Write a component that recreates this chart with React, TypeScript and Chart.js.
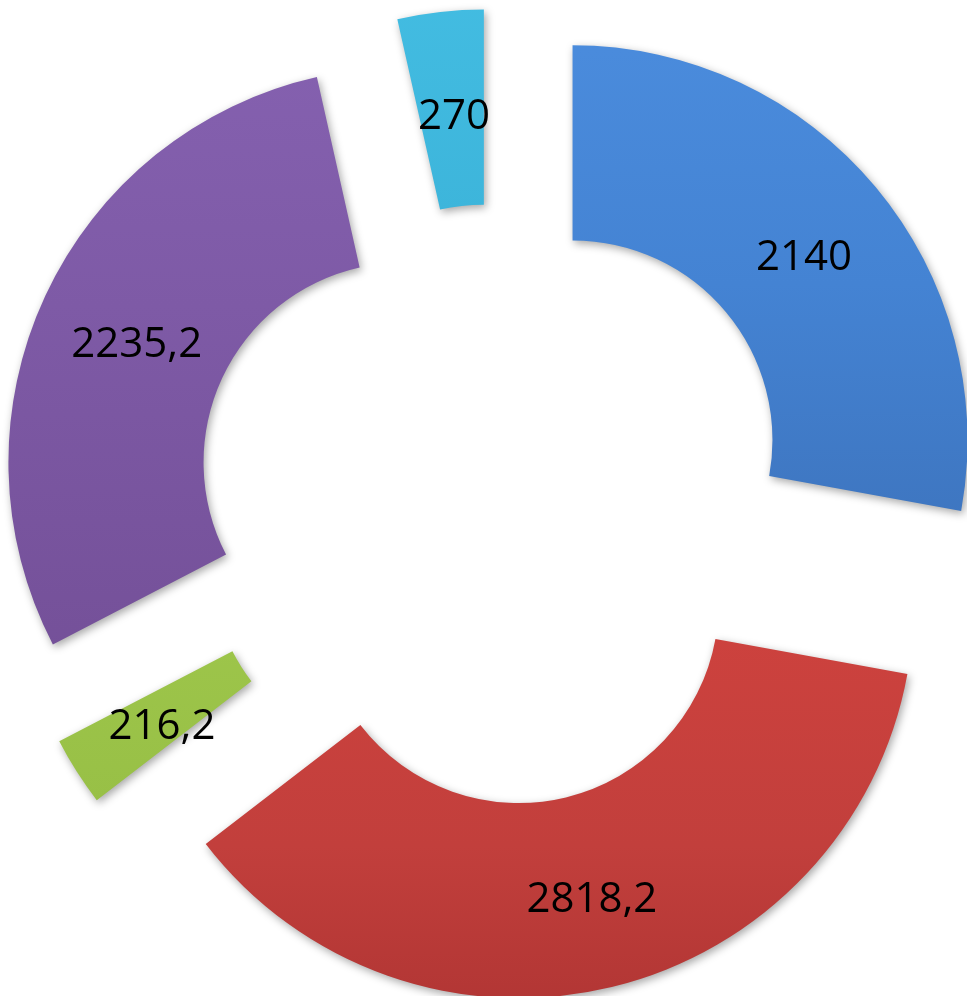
import React, { useEffect, useRef } from "react";
import { Chart, DoughnutController, ArcElement } from "chart.js";

const categories = ["A", "B", "C", "D", "E"];
const values = [2140, 2818.2, 216.2, 2235.2, 270];
const labelsText = ["2140", "2818,2", "216,2", "2235,2", "270"];
const colorStops: string[][] = [
  ["#4d8fe0", "#4483d3", "#3a6db4", "#32609f"],
  ["#e04c48", "#d6443f", "#c23f3c", "#a93130"],
  ["#b0d860", "#a4cc50", "#98c046", "#88ad3c"],
  ["#8763b3", "#7e5aa6", "#734f97", "#664585"],
  ["#45bfe4", "#3cb4da", "#33a3c8", "#2c93b5"],
];

class ExplodedArc extends ArcElement {
  static id = "explodedArc";
  draw(ctx: CanvasRenderingContext2D) {
    const self: any = this;
    const opts: any = self.options;
    const shift = opts.offset || 0;
    const mid = (self.startAngle + self.endAngle) / 2;
    ctx.save();
    ctx.translate(Math.cos(mid) * shift, Math.sin(mid) * shift);
    ctx.shadowColor = "rgba(0,0,0,0.35)";
    ctx.shadowBlur = 8;
    ctx.shadowOffsetX = 2;
    ctx.shadowOffsetY = 3;
    self.options = { ...opts, offset: 0 };
    super.draw(ctx);
    self.options = opts;
    ctx.restore();
  }
}

class ExplodedDoughnutController extends DoughnutController {
  static id = "explodedDoughnut";
  static defaults = { dataElementType: "explodedArc" };
}

Chart.register(ExplodedArc, ExplodedDoughnutController);

const labelPlugin = {
  id: "sliceLabels",
  afterDatasetsDraw(chart: any) {
    const ctx = chart.ctx;
    const meta = chart.getDatasetMeta(0);
    ctx.save();
    ctx.font = "500 42px 'Open Sans'";
    ctx.fillStyle = "#000";
    ctx.textAlign = "center";
    ctx.textBaseline = "middle";
    meta.data.forEach((el: any, i: number) => {
      const p = el.getProps(["x", "y", "startAngle", "endAngle", "innerRadius", "outerRadius"], true);
      const shift = el.options.offset || 0;
      const mid = (p.startAngle + p.endAngle) / 2;
      const r = shift + (p.innerRadius + p.outerRadius) / 2;
      ctx.fillText(labelsText[i], p.x + Math.cos(mid) * r + 3, p.y + Math.sin(mid) * r + 8);
    });
    ctx.restore();
  },
};

export default function App() {
  const ref = useRef<HTMLCanvasElement>(null);
  useEffect(() => {
    if (!ref.current) return;
    const chart = new Chart(ref.current, {
      type: "explodedDoughnut" as any,
      data: {
        labels: categories,
        datasets: [
          {
            data: values,
            backgroundColor: (c: any) => {
              const g = c.chart.ctx.createLinearGradient(0, 0, 0, 996);
              const s = colorStops[c.dataIndex % colorStops.length];
              g.addColorStop(0, s[0]);
              g.addColorStop(0.35, s[1]);
              g.addColorStop(0.75, s[2]);
              g.addColorStop(1, s[3]);
              return g;
            },
            borderWidth: 0,
            offset: 101,
            hoverOffset: 0,
            radius: 395,
            cutout: "50.6%",
          } as any,
        ],
      },
      options: {
        animation: false,
        responsive: false,
        layout: { padding: { left: 23, top: 14, right: 0, bottom: 0 } },
        plugins: { legend: { display: false }, tooltip: { enabled: false } },
      } as any,
      plugins: [labelPlugin],
    });
    return () => chart.destroy();
  }, []);
  return (
    <div style={{ position: "absolute", left: 0, top: 0, width: 967, height: 996, background: "#fff" }}>
      <canvas ref={ref} width={967} height={996} style={{ display: "block" }} />
    </div>
  );
}
